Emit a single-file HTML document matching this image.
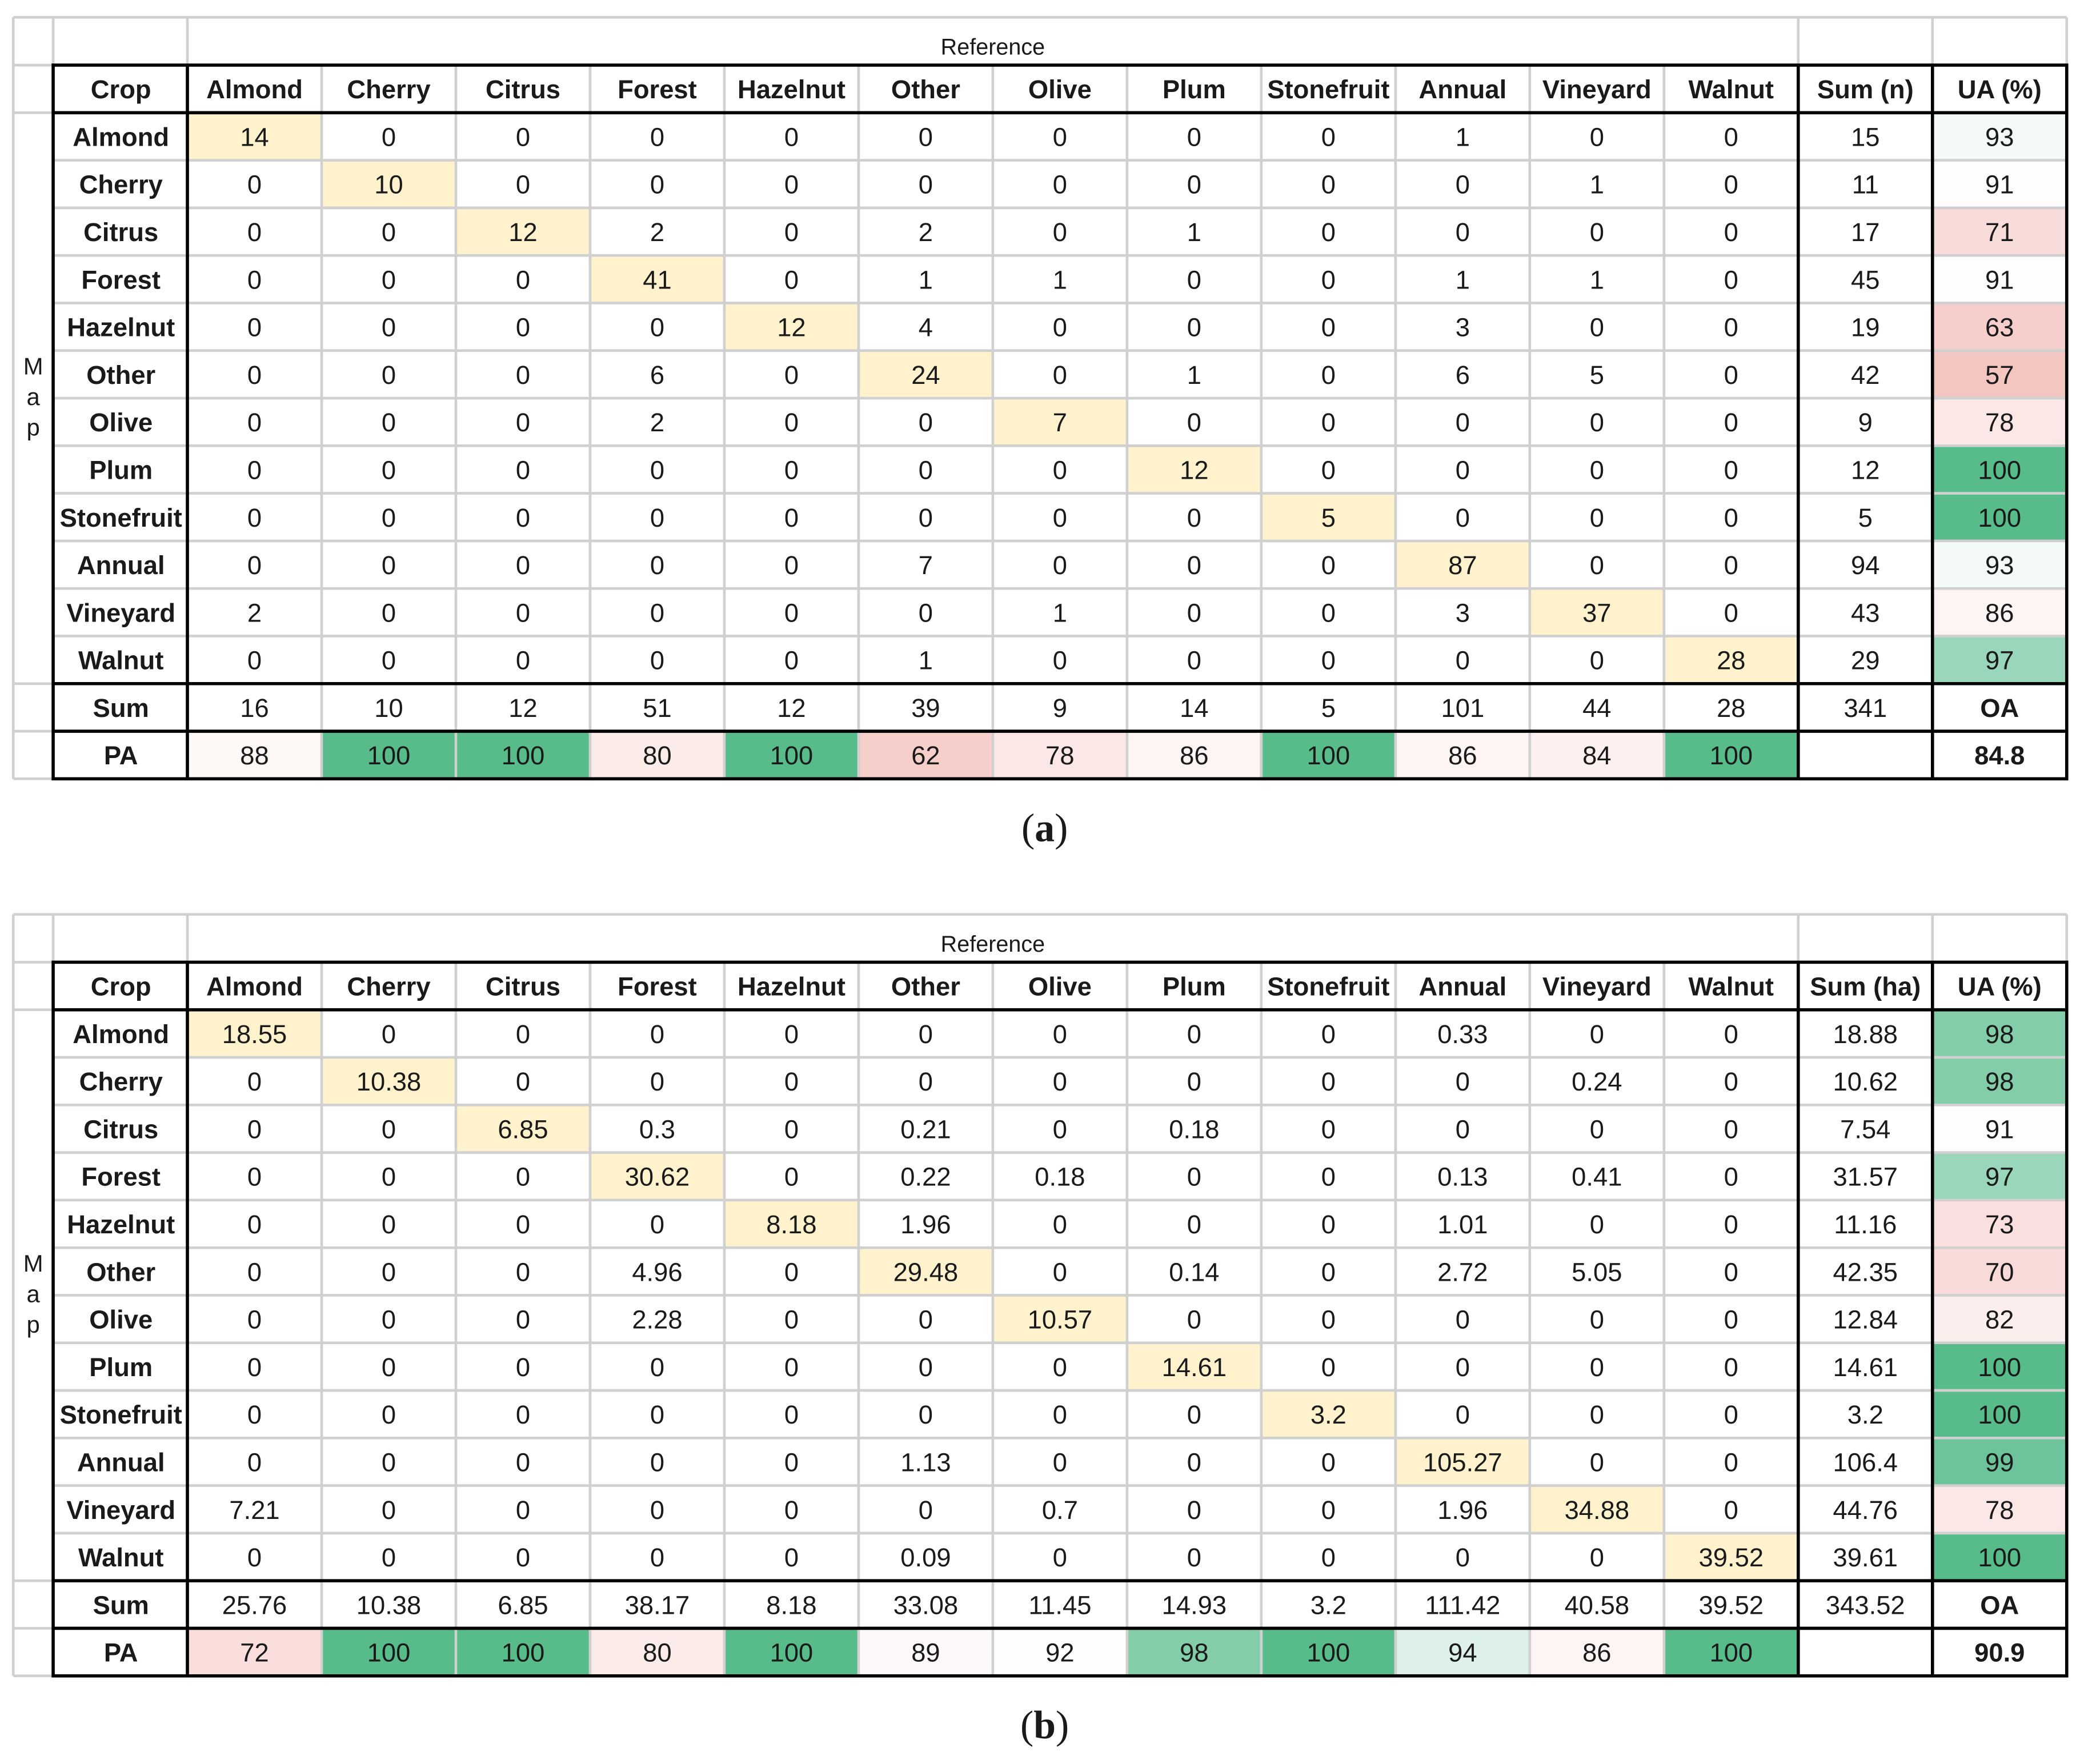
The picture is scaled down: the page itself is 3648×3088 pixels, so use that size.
<!DOCTYPE html>
<html><head><meta charset="utf-8">
<style>
html,body{margin:0;padding:0;background:#fff;}
svg{display:block;}
text{font-family:"Liberation Sans",Arial,sans-serif;fill:#1a1a1a;}
</style></head>
<body>
<svg id="fig" width="3648" height="3088" viewBox="0 0 1568 1327.3" xmlns="http://www.w3.org/2000/svg"></svg>
<script>
const classes = ["Almond","Cherry","Citrus","Forest","Hazelnut","Other","Olive","Plum","Stonefruit","Annual","Vineyard","Walnut"];
const countsA = [
[14,0,0,0,0,0,0,0,0,1,0,0],
[0,10,0,0,0,0,0,0,0,0,1,0],
[0,0,12,2,0,2,0,1,0,0,0,0],
[0,0,0,41,0,1,1,0,0,1,1,0],
[0,0,0,0,12,4,0,0,0,3,0,0],
[0,0,0,6,0,24,0,1,0,6,5,0],
[0,0,0,2,0,0,7,0,0,0,0,0],
[0,0,0,0,0,0,0,12,0,0,0,0],
[0,0,0,0,0,0,0,0,5,0,0,0],
[0,0,0,0,0,7,0,0,0,87,0,0],
[2,0,0,0,0,0,1,0,0,3,37,0],
[0,0,0,0,0,1,0,0,0,0,0,28]];
const rowSumA = ["15","11","17","45","19","42","9","12","5","94","43","29"];
const uaA = [93,91,71,91,63,57,78,100,100,93,86,97];
const colSumA = ["16","10","12","51","12","39","9","14","5","101","44","28"];
const paA = [88,100,100,80,100,62,78,86,100,86,84,100];
const totalA = "341";
const oaA = "84.8";

const areaB = [
["18.55","0","0","0","0","0","0","0","0","0.33","0","0"],
["0","10.38","0","0","0","0","0","0","0","0","0.24","0"],
["0","0","6.85","0.3","0","0.21","0","0.18","0","0","0","0"],
["0","0","0","30.62","0","0.22","0.18","0","0","0.13","0.41","0"],
["0","0","0","0","8.18","1.96","0","0","0","1.01","0","0"],
["0","0","0","4.96","0","29.48","0","0.14","0","2.72","5.05","0"],
["0","0","0","2.28","0","0","10.57","0","0","0","0","0"],
["0","0","0","0","0","0","0","14.61","0","0","0","0"],
["0","0","0","0","0","0","0","0","3.2","0","0","0"],
["0","0","0","0","0","1.13","0","0","0","105.27","0","0"],
["7.21","0","0","0","0","0","0.7","0","0","1.96","34.88","0"],
["0","0","0","0","0","0.09","0","0","0","0","0","39.52"]];
const rowSumB = ["18.88","10.62","7.54","31.57","11.16","42.35","12.84","14.61","3.2","106.4","44.76","39.61"];
const uaB = [98,98,91,97,73,70,82,100,100,99,78,100];
const colSumB = ["25.76","10.38","6.85","38.17","8.18","33.08","11.45","14.93","3.2","111.42","40.58","39.52"];
const paB = [72,100,100,80,100,89,92,98,100,94,86,100];
const totalB = "343.52";
const oaB = "90.9";

const NS = "http://www.w3.org/2000/svg";
const svg = document.getElementById("fig");
function el(tag, attrs, parent){
  const e = document.createElementNS(NS, tag);
  for (const k in attrs) e.setAttribute(k, attrs[k]);
  (parent||svg).appendChild(e);
  return e;
}
function mix(c1, c2, t){
  t = Math.max(0, Math.min(1, t));
  const r = Math.round(c1[0]+(c2[0]-c1[0])*t), g = Math.round(c1[1]+(c2[1]-c1[1])*t), b = Math.round(c1[2]+(c2[2]-c1[2])*t);
  return "rgb("+r+","+g+","+b+")";
}
function scaleColor(v){
  const mid = 92.5;
  if (v >= mid) return mix([255,255,255],[87,187,138],(v-mid)/7.5);
  return mix([255,255,255],[230,124,115],(mid-v)/81);
}
function colEdge(i){ return i===0 ? 40 : 141 + 101*(i-1); }

function drawTable(top, name, matrix, rowSum, ua, colSum, pa, total, oa, sumLabel, caption){
  const g = el("g", {});
  
  
  const H = 35.8;
  const yBlack = top + 36;
  const yRow = (r) => yBlack + H*(r+1);
  const bottom = yBlack + H*15;
  for (let r=0;r<12;r++){
    const rect = el("rect", {x: colEdge(r+1), y: yRow(r), width:101, height:H, fill:"#fff2cc"}, g);
    
    
    const u = el("rect", {x: colEdge(14), y: yRow(r), width:101, height:H, fill: scaleColor(ua[r])}, g);
    
    
  }
  for (let c=0;c<12;c++){
    const p = el("rect", {x: colEdge(c+1), y: yRow(13), width:101, height:H, fill: scaleColor(pa[c])}, g);
    
    
  }
  const grey = "#d0d0d0";
  el("line",{x1:10,y1:top,x2:1555,y2:top,stroke:grey,"stroke-width":2},g);
  el("line",{x1:10,y1:top,x2:10,y2:bottom,stroke:grey,"stroke-width":2},g);
  el("line",{x1:1555,y1:top,x2:1555,y2:yBlack,stroke:grey,"stroke-width":2},g);
  [40,141,1353,1454].forEach(x=>el("line",{x1:x,y1:top,x2:x,y2:yBlack,stroke:grey,"stroke-width":2},g));
  [yBlack, yBlack+H, yRow(12), yRow(13), bottom].forEach(y=>el("line",{x1:10,y1:y,x2:40,y2:y,stroke:grey,"stroke-width":2},g));
  for (let r=1;r<12;r++) el("line",{x1:40,y1:yRow(r),x2:1555,y2:yRow(r),stroke:grey,"stroke-width":2},g);
  for (let c=2;c<=12;c++) el("line",{x1:colEdge(c),y1:yBlack,x2:colEdge(c),y2:bottom,stroke:grey,"stroke-width":2},g);
  const bk = "#000";
  el("rect",{x:40,y:yBlack,width:1515,height:H*15,fill:"none",stroke:bk,"stroke-width":2.4},g);
  [141,1353,1454].forEach(x=>el("line",{x1:x,y1:yBlack,x2:x,y2:bottom,stroke:bk,"stroke-width":2.4},g));
  [yBlack+H, yRow(12), yRow(13)].forEach(y=>el("line",{x1:40,y1:y,x2:1555,y2:y,stroke:bk,"stroke-width":2.4},g));
  function txt(x,y,s,bold,nm){
    const t = el("text",{x:x,y:y,"text-anchor":"middle","font-size":19.5,"font-weight":bold?"bold":"normal"},g);
    t.textContent = s;
    
    
    return t;
  }
  txt(747, top+28, "Reference", false, "reference-title").setAttribute("font-size","17");
  const base = (r)=> yRow(r) + 25;
  txt(91, yBlack+25, "Crop", true, "crop-header");
  for (let c=0;c<12;c++) txt(colEdge(c+1)+50.5, yBlack+25, classes[c], true, "column-header");
  txt(1403.5, yBlack+25, sumLabel, true, "sum-header");
  txt(1504.5, yBlack+25, "UA (%)", true, "ua-header");
  for (let r=0;r<12;r++){
    txt(91, base(r), classes[r], true, "row-header");
    for (let c=0;c<12;c++) txt(colEdge(c+1)+50.5, base(r), String(matrix[r][c]), false, "matrix-value");
    txt(1403.5, base(r), rowSum[r], false, "row-sum");
    txt(1504.5, base(r), String(ua[r]), false, "ua-value");
  }
  txt(91, base(12), "Sum", true, "sum-row-header");
  txt(91, base(13), "PA", true, "pa-row-header");
  for (let c=0;c<12;c++){
    txt(colEdge(c+1)+50.5, base(12), colSum[c], false, "column-sum");
    txt(colEdge(c+1)+50.5, base(13), String(pa[c]), false, "pa-value");
  }
  txt(1403.5, base(12), total, false, "grand-total");
  txt(1504.5, base(12), "OA", true, "oa-label");
  txt(1504.5, base(13), oa, true, "oa-value");
  ["M","a","p"].forEach((ch,i)=>{
    const t = el("text",{x:25,y:yBlack+H*6.5+i*23,"text-anchor":"middle","font-size":18},g);
    t.textContent = ch;
    
    
  });
  const cap = el("text",{x:786,y:bottom+47,"text-anchor":"middle","font-size":30,style:"font-family:'Liberation Serif',serif"},svg);
  cap.innerHTML = '(<tspan font-weight="bold">'+caption+'</tspan>)';
  
  
}
drawTable(13, "table-count-matrix", countsA, rowSumA, uaA, colSumA, paA, totalA, oaA, "Sum (n)", "a");
drawTable(688, "table-area-matrix", areaB, rowSumB, uaB, colSumB, paB, totalB, oaB, "Sum (ha)", "b");
</script>
</body></html>
